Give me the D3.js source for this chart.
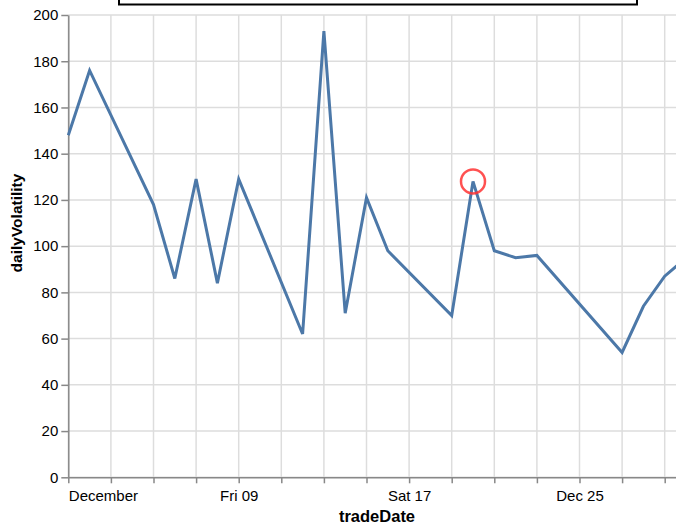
<!DOCTYPE html>
<html>
<head>
<meta charset="utf-8">
<script src="https://cdn.jsdelivr.net/npm/d3@7"></script>
<style>
  html, body { margin: 0; padding: 0; background: #fff; overflow: hidden; }
  svg { display: block; }
  text { font-family: "Liberation Sans", Arial, sans-serif; }
</style>
</head>
<body>
<svg id="chart" width="676" height="526"></svg>
<script>
// ---- data ----
const tradeDays = [1, 2, 5, 6, 7, 8, 9, 12, 13, 14, 15, 16, 19, 20, 21, 22, 23, 27, 28, 29, 30];
const dailyVolatility = [148, 176, 118, 86, 129, 84, 129, 62, 193, 71, 121, 98, 70, 128, 98, 95, 96, 54, 74, 87, 95];
const xTickDays = [1, 3, 5, 7, 9, 11, 13, 15, 17, 19, 21, 23, 25, 27, 29];
const xTickLabels = {1: "December", 9: "Fri 09", 17: "Sat 17", 25: "Dec 25"};
const yTicks = [0, 20, 40, 60, 80, 100, 120, 140, 160, 180, 200];
const highlightDay = 20;

const data = tradeDays.map((d, i) => ({ date: new Date(2016, 11, d), v: dailyVolatility[i] }));

const svg = d3.select("#chart");
const plotLeft = 68.3, plotTop = 15, plotBottom = 477.3;
const x = d3.scaleTime()
  .domain([new Date(2016, 11, 1), new Date(2016, 11, 30)])
  .range([plotLeft, 686]);
const y = d3.scaleLinear().domain([0, 200]).range([plotBottom, plotTop]);

// top box
svg.append("rect").attr("x", 119).attr("y", -10).attr("width", 518).attr("height", 14.5)
  .attr("fill", "none").attr("stroke", "#000").attr("stroke-width", 2);

// grid
const grid = svg.append("g");
grid.selectAll("line.gx").data(xTickDays.map(d => new Date(2016, 11, d))).enter()
  .append("line")
  .attr("x1", d => x(d)).attr("x2", d => x(d))
  .attr("y1", plotTop).attr("y2", plotBottom)
  .attr("stroke", "#ddd").attr("stroke-width", 1.5);
grid.selectAll("line.gy").data(yTicks).enter()
  .append("line")
  .attr("x1", plotLeft).attr("x2", 676)
  .attr("y1", d => y(d)).attr("y2", d => y(d))
  .attr("stroke", "#ddd").attr("stroke-width", 1.5);

// x axis
const xAxis = d3.axisBottom(x)
  .tickValues(xTickDays.map(d => new Date(2016, 11, d)))
  .tickSize(6).tickSizeOuter(0)
  .tickFormat(d => xTickLabels[d.getDate()] || "");
const gx = svg.append("g").attr("transform", `translate(0,${plotBottom})`).call(xAxis);
gx.select(".domain").attr("stroke", "#888").attr("stroke-width", 1.5);
gx.selectAll(".tick line").attr("stroke", "#888").attr("stroke-width", 1.5);
gx.selectAll(".tick text").attr("font-size", 15).attr("fill", "#000").attr("dy", "0.95em")
  .attr("font-family", "Liberation Sans, Arial, sans-serif")
  .attr("text-anchor", d => d.getDate() === 1 ? "start" : "middle");

// y axis
const yAxis = d3.axisLeft(y).tickValues(yTicks).tickSize(7).tickSizeOuter(0).tickPadding(3);
const gy = svg.append("g").attr("transform", `translate(${plotLeft},0)`).call(yAxis);
gy.select(".domain").attr("stroke", "#888").attr("stroke-width", 1.5);
gy.selectAll(".tick line").attr("stroke", "#888").attr("stroke-width", 1.5);
gy.selectAll(".tick text").attr("font-size", 15).attr("fill", "#000")
  .attr("font-family", "Liberation Sans, Arial, sans-serif");

// line
const line = d3.line().x(d => x(d.date)).y(d => y(d.v));
svg.append("path").datum(data)
  .attr("fill", "none").attr("stroke", "#4c78a8").attr("stroke-width", 3)
  .attr("stroke-linejoin", "miter").attr("d", line);

// highlight circle
const h = data.find(d => d.date.getDate() === highlightDay);
svg.append("circle").attr("cx", x(h.date)).attr("cy", y(h.v)).attr("r", 12)
  .attr("fill", "none").attr("stroke", "#f33").attr("stroke-width", 2.5).attr("stroke-opacity", 0.85);

// titles
svg.append("text").attr("x", 377).attr("y", 522).attr("text-anchor", "middle")
  .attr("font-size", 16.5).attr("font-weight", "bold").attr("fill", "#000").text("tradeDate");
svg.append("text").attr("transform", "translate(22,223) rotate(-90)").attr("text-anchor", "middle")
  .attr("font-size", 15.5).attr("font-weight", "bold").attr("fill", "#000").text("dailyVolatility");
</script>
</body>
</html>
